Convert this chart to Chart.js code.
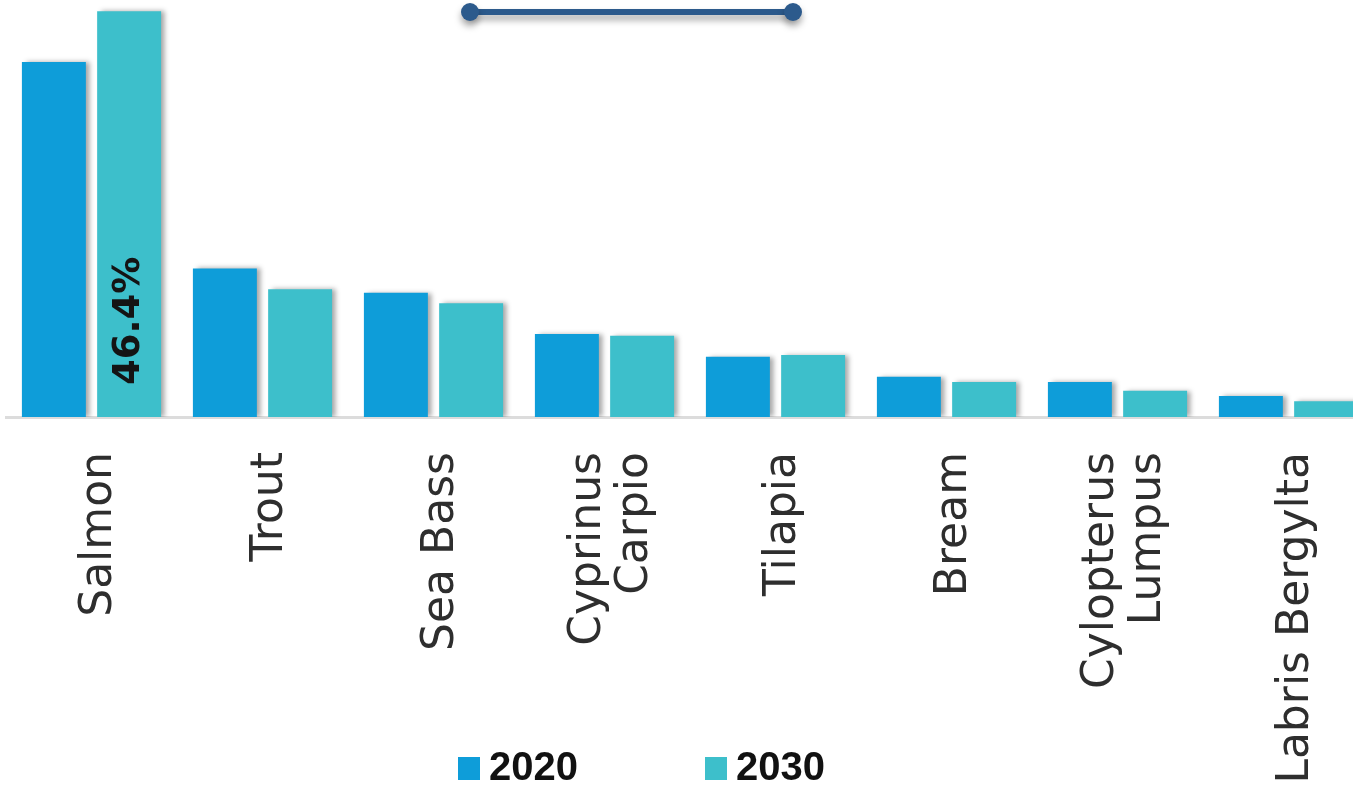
<!DOCTYPE html>
<html>
<head>
<meta charset="utf-8">
<script src="https://cdn.jsdelivr.net/npm/chart.js@4.4.0/dist/chart.umd.min.js"></script>
<style>
  html, body { margin: 0; padding: 0; background: #fff; overflow: hidden; }
  #wrap { width: 1380px; height: 787px; }
</style>
</head>
<body>
<div id="wrap"><canvas id="species" width="1380" height="787"></canvas></div>
<script>
const species = ["Salmon", "Trout", "Sea Bass", ["Cyprinus", "Carpio"], "Tilapia", "Bream", ["Cylopterus", "Lumpus"], "Labris Bergylta"];
const years = ["2020", "2030"];
const share2020 = [40.6, 17.0, 14.2, 9.5, 6.9, 4.6, 4.0, 2.4];
const share2030 = [46.4, 14.6, 13.0, 9.3, 7.1, 4.0, 3.0, 1.8];
const colors = ["#0e9dd9", "#3dbfcb"];

// soft shadow to the right of each bar
const barShadow = {
  id: "barShadow",
  beforeDatasetsDraw(chart) {
    const ctx = chart.ctx;
    ctx.save();
    ctx.shadowColor = "rgba(0,0,0,0.35)";
    ctx.shadowOffsetX = 4;
    ctx.shadowOffsetY = 0;
    ctx.shadowBlur = 5;
  },
  afterDatasetsDraw(chart) {
    chart.ctx.restore();
  }
};

// salmon 2030 share written up the bar
const salmonLabel = {
  id: "salmonLabel",
  afterDatasetsDraw(chart) {
    const bar = chart.getDatasetMeta(1).data[0];
    const ctx = chart.ctx;
    ctx.save();
    ctx.translate(bar.x, bar.base - 32);
    ctx.rotate(-Math.PI / 2);
    ctx.font = "bold 37px 'DejaVu Sans'";
    ctx.fillStyle = "#141414";
    ctx.textAlign = "left";
    ctx.textBaseline = "middle";
    ctx.fillText(share2030[0] + "%", 0, 0);
    ctx.restore();
  }
};

// vertical category names, multi-line ones centred on the tick
const categoryLabels = {
  id: "categoryLabels",
  afterDraw(chart) {
    const ctx = chart.ctx;
    const scale = chart.scales.x;
    const top = chart.chartArea.bottom + 35;
    const lineGap = 47;
    ctx.save();
    ctx.font = "44px 'DejaVu Sans'";
    ctx.fillStyle = "#2e2e2e";
    ctx.textAlign = "right";
    ctx.textBaseline = "alphabetic";
    chart.data.labels.forEach((label, i) => {
      const lines = Array.isArray(label) ? label : [label];
      const tick = scale.getPixelForTick(i);
      lines.forEach((line, k) => {
        const bx = tick + 19 + (k - (lines.length - 1) / 2) * lineGap;
        ctx.save();
        ctx.translate(bx, top);
        ctx.rotate(-Math.PI / 2);
        ctx.fillText(line, 0, 0);
        ctx.restore();
      });
    });
    ctx.restore();
  }
};

// header rule with round end caps
const headerRule = {
  id: "headerRule",
  afterDraw(chart) {
    const ctx = chart.ctx;
    const y = 12, x1 = 470, x2 = 793;
    ctx.save();
    ctx.shadowColor = "rgba(0,0,0,0.35)";
    ctx.shadowOffsetY = 5;
    ctx.shadowBlur = 7;
    ctx.strokeStyle = "#2c5a8c";
    ctx.lineWidth = 6;
    ctx.beginPath();
    ctx.moveTo(x1, y);
    ctx.lineTo(x2, y);
    ctx.stroke();
    ctx.fillStyle = "#2c5a8c";
    [x1, x2].forEach(x => {
      ctx.beginPath();
      ctx.arc(x, y, 9, 0, Math.PI * 2);
      ctx.fill();
    });
    ctx.restore();
  }
};

// legend sits under the category labels
const bottomLegend = {
  id: "bottomLegend",
  afterDraw(chart) {
    const ctx = chart.ctx;
    const spots = [458, 705];
    ctx.save();
    ctx.font = "bold 40px 'Liberation Sans'";
    ctx.textBaseline = "middle";
    chart.data.datasets.forEach((ds, i) => {
      const x = spots[i];
      ctx.fillStyle = ds.backgroundColor;
      ctx.fillRect(x, 757, 22, 23);
      ctx.fillStyle = "#111";
      ctx.fillText(ds.label, x + 31, 769);
    });
    ctx.restore();
  }
};

new Chart(document.getElementById("species"), {
  type: "bar",
  data: {
    labels: species,
    datasets: [
      { label: years[0], data: share2020, backgroundColor: colors[0] },
      { label: years[1], data: share2030, backgroundColor: colors[1] }
    ]
  },
  options: {
    responsive: false,
    animation: false,
    categoryPercentage: 0.88,
    barPercentage: 0.85,
    layout: { padding: { left: 6, right: 6, top: 0, bottom: 0 } },
    plugins: {
      legend: { display: false },
      tooltip: { enabled: false }
    },
    scales: {
      x: {
        grid: { display: false, drawTicks: false },
        border: { display: true, color: "#dcdcdc", width: 3 },
        ticks: { display: false },
        afterFit(scale) { scale.height = 370; }
      },
      y: {
        display: false,
        min: 0,
        max: 47.7
      }
    }
  },
  plugins: [barShadow, salmonLabel, categoryLabels, headerRule, bottomLegend]
});
</script>
</body>
</html>
